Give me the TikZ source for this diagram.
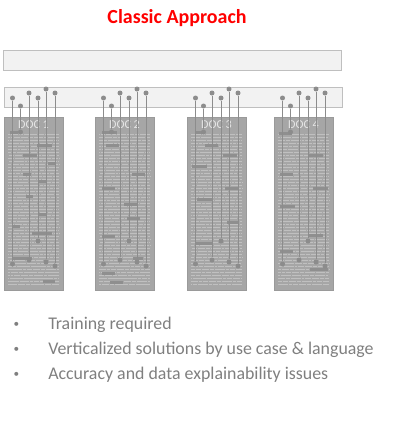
\documentclass[tikz,border=0pt]{standalone}
\usepackage{fontspec}
\setmainfont{Carlito}
\usepackage{xcolor}
\usepackage{tikz}
\usetikzlibrary{shapes.geometric, arrows}
\definecolor{tred}{HTML}{FF0000}
\definecolor{barfill}{HTML}{F2F2F2}
\definecolor{barline}{HTML}{BFBFBF}
\definecolor{docfill}{HTML}{A6A6A6}
\definecolor{docline}{HTML}{9A9A9A}
\definecolor{pingray}{HTML}{8C8C8C}
\definecolor{hlgray}{HTML}{8F8F8F}
\definecolor{bulgray}{HTML}{7F7F7F}
\tikzstyle{title} = [text=tred, font=\bfseries\fontsize{14.2}{16}\selectfont]
\tikzstyle{bar} = [rectangle,
minimum width=338*0.025cm,
minimum height=20*0.025cm,
inner sep=0pt,
fill=barfill, draw=barline, line width=0.6pt]
\tikzstyle{doc} = [rectangle,
minimum width=59*0.025cm,
minimum height=173*0.025cm,
inner sep=0pt,
fill=docfill, draw=docline, line width=0.5pt]
\tikzstyle{docname} = [text=white!90!black, font=\fontsize{8.6}{9}\selectfont, inner sep=0pt]
\tikzstyle{dotnode} = [circle, fill=pingray, minimum size=5*0.025cm, inner sep=0pt]
\tikzstyle{pinline} = [draw=pingray, line width=0.7pt]
\tikzstyle{txtline} = [draw=white, opacity=0.3, line width=0.6pt,
dash pattern=on 5pt off 0.6pt on 3pt off 0.6pt on 7pt off 0.6pt on 2pt off 0.6pt on 4pt off 0.6pt]
\tikzstyle{hl} = [fill=hlgray]
\tikzstyle{bullet} = [text=bulgray, font=\fontsize{12.7}{14}\selectfont, anchor=base west, inner sep=0pt]
\tikzstyle{bulletdot} = [text=bulgray, font=\fontsize{8}{9}\selectfont, inner sep=0pt]

\begin{document}
\begin{tikzpicture}[x=0.025cm, y=-0.025cm]
\useasboundingbox (0,0) rectangle (400,421);

\node (head) [title] at (177,18) {Classic Approach};

\node (bar1) [bar] at (172,60) {};
\node (bar2) [bar] at (173,97.5) {};

% the four documents
\foreach \i/\L in {1/4, 2/95, 3/187, 4/274} {
  \node (doc\i) [doc] at (\L+29.5,203.5) {};
  \node (name\i) [docname] at (\L+29.5,124.5) {DOC \i};
  \foreach \yy in {134,137,...,286} {
    \pgfmathsetmacro\ph{mod(\yy*13+\i*5,23)}
    \draw[txtline, dash phase=\ph pt] (\L+4,\yy) -- (\L+55,\yy);
  }
}

% highlighted words
\foreach \a/\b/\yy in {10/18/132, 37/52/145, 23/37/155, 48/55/163, 23/31/174, 39/47/181,
  26/33/196, 39/47/214, 13/20/226, 32/52/233, 13/32/258, 43/55/281,
  102/117/132, 106/119/145, 132/145/174, 102/115/188, 124/137/204, 127/140/218,
  102/115/236, 133/143/258, 102/115/273, 110/123/282,
  195/203/132, 205/218/145, 223/237/155, 192/207/166, 225/238/188, 197/212/199,
  227/238/222, 195/212/243, 279/292/133, 308/323/155, 280/293/174, 313/328/188,
  280/295/206, 309/323/235, 280/293/251, 310/328/269}
  \fill[hl] (\a,\yy-1.5) rectangle (\b,\yy+1.5);

% pins from the bar into the documents
\foreach \i/\L in {1/4, 2/95, 3/187, 4/274} {
  \foreach \dx/\ty/\by [count=\k] in {8.5/98/264, 16.5/106/132, 25/93/260, 34/98/241, 42/89/262, 51/93/266} {
    \node (t\i\k) [dotnode] at (\L+\dx,\ty) {};
    \node (b\i\k) [dotnode] at (\L+\dx,\by) {};
    \draw [pinline] (t\i\k) -- (b\i\k);
  }
}

\node (pt1) [bullet] at (48,329) {Training required};
\node (pt2) [bullet] at (48,354) {Verticalized solutions by use case \& language};
\node (pt3) [bullet] at (48,379) {Accuracy and data explainability issues};
\node (bul1) [bulletdot] at (16.5,324.5) {•};
\node (bul2) [bulletdot] at (16.5,349.5) {•};
\node (bul3) [bulletdot] at (16.5,374.5) {•};

\end{tikzpicture}
\end{document}
